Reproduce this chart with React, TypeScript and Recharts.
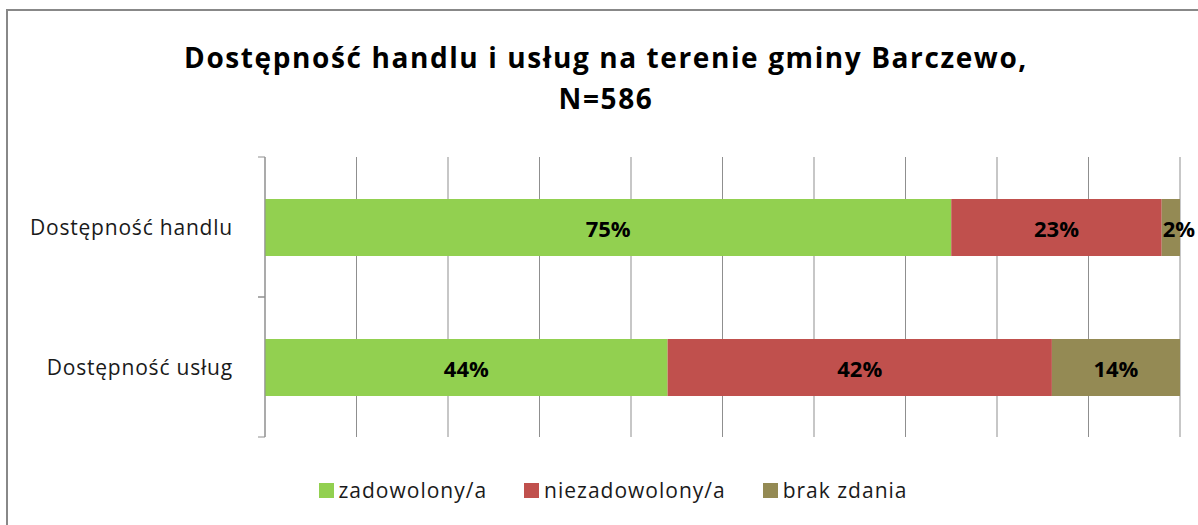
import { BarChart, Bar, XAxis, YAxis, CartesianGrid, Legend, LabelList } from 'recharts'

const categories = ['Dostępność handlu', 'Dostępność usług']
const satisfied = [75, 44]
const dissatisfied = [23, 42]
const noOpinion = [2, 14]
const xTicks = [0, 10, 20, 30, 40, 50, 60, 70, 80, 90, 100]

const GREEN = '#92d050'
const RED = '#c0504d'
const OLIVE = '#948a54'
const GRID = '#8f8f8f'
const FONT = '"Open Sans", sans-serif'

const data = categories.map((name, i) => ({
  name,
  satisfied: satisfied[i],
  dissatisfied: dissatisfied[i],
  noOpinion: noOpinion[i],
}))

function CategoryTick(props: any) {
  const { x, y, payload } = props
  const half = payload?.offset ?? 0
  return (
    <g>
      <text
        x={x - 32}
        y={y}
        textAnchor="end"
        dominantBaseline="central"
        fontSize={21}
        letterSpacing={0.8}
        fill="#1a1a1a"
        fontFamily={FONT}
      >
        {payload.value}
      </text>
      <line x1={x - 7} x2={x} y1={y - half} y2={y - half} stroke={GRID} />
      <line x1={x - 7} x2={x} y1={y + half} y2={y + half} stroke={GRID} />
    </g>
  )
}

// narrow segments get their label pushed to the start, like the original
function SegmentLabel(props: any) {
  const { x, y, width, height, value } = props
  const narrow = width < 30
  return (
    <text
      x={narrow ? x + 1 : x + width / 2}
      y={y + height / 2}
      textAnchor={narrow ? 'start' : 'middle'}
      dominantBaseline="central"
      fontSize={22}
      fontWeight={700}
      fontFamily={FONT}
      fill="#000"
    >
      {`${value}%`}
    </text>
  )
}

function LegendContent({ payload }: any) {
  const items = [...(payload ?? [])].reverse()
  return (
    <div
      style={{
        display: 'flex',
        justifyContent: 'center',
        gap: 37,
        fontFamily: FONT,
        fontSize: 21,
        letterSpacing: 1,
        color: '#1a1a1a',
        lineHeight: '30px',
      }}
    >
      {items.map((p: any) => (
        <span key={p.value} style={{ display: 'flex', alignItems: 'center' }}>
          <span style={{ width: 15, height: 15, background: p.color, marginRight: 5, display: 'inline-block' }} />
          {p.value}
        </span>
      ))}
    </div>
  )
}

export default function App() {
  return (
    <div style={{ position: 'absolute', left: 0, top: 0, width: 1198, height: 525, background: '#fff', overflow: 'hidden' }}>
      <div style={{ position: 'absolute', left: 6, top: 9, width: 1220, height: 540, border: '2px solid #888', boxSizing: 'border-box' }} />
      <div
        style={{
          position: 'absolute',
          left: 0,
          top: 37,
          width: 1212,
          textAlign: 'center',
          fontFamily: FONT,
          fontWeight: 700,
          fontSize: 28,
          letterSpacing: 1.6,
          lineHeight: '41px',
          color: '#000',
        }}
      >
        Dostępność handlu i usług na terenie gminy Barczewo,
        <br />
        N=586
      </div>
      <div style={{ position: 'absolute', left: 0, top: 0 }}>
        <BarChart width={1198} height={525} layout="vertical" data={data} margin={{ top: 157, right: 18, bottom: 58, left: 10 }}>
          <CartesianGrid horizontal={false} stroke={GRID} />
          <XAxis type="number" domain={[0, 100]} ticks={xTicks} hide />
          <YAxis
            type="category"
            dataKey="name"
            width={255}
            tickLine={false}
            tickSize={0}
            tickMargin={0}
            axisLine={{ stroke: GRID }}
            tick={<CategoryTick />}
          />
          <Legend
            verticalAlign="bottom"
            wrapperStyle={{ top: 475, left: 28, width: 1170 }}
            content={<LegendContent />}
          />
          <Bar dataKey="satisfied" name="zadowolony/a" stackId="a" fill={GREEN} barSize={57} isAnimationActive={false}>
            <LabelList dataKey="satisfied" content={<SegmentLabel />} />
          </Bar>
          <Bar dataKey="dissatisfied" name="niezadowolony/a" stackId="a" fill={RED} barSize={57} isAnimationActive={false}>
            <LabelList dataKey="dissatisfied" content={<SegmentLabel />} />
          </Bar>
          <Bar dataKey="noOpinion" name="brak zdania" stackId="a" fill={OLIVE} barSize={57} isAnimationActive={false}>
            <LabelList dataKey="noOpinion" content={<SegmentLabel />} />
          </Bar>
        </BarChart>
      </div>
    </div>
  )
}
